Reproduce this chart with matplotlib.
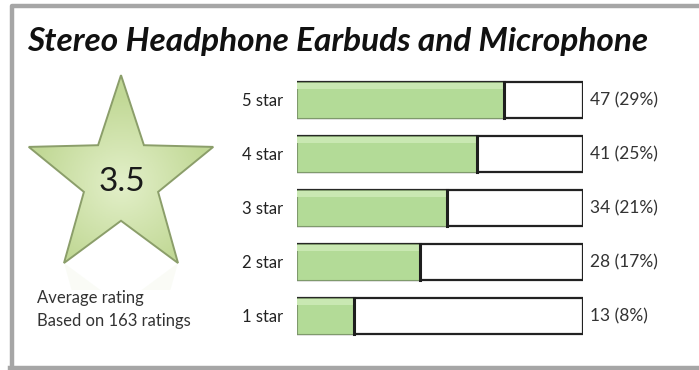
import matplotlib
matplotlib.use('Agg')
import matplotlib.pyplot as plt
import numpy as np
from matplotlib.patches import Polygon, Rectangle

plt.rcParams['font.family'] = ['Lato', 'DejaVu Sans']

title = 'Stereo Headphone Earbuds and Microphone'
stars = ['1 star', '2 star', '3 star', '4 star', '5 star']
counts = [13, 28, 34, 41, 47]
percents = [8, 17, 21, 25, 29]
scale_max = 65
avg_rating = 3.5
n_ratings = 163

W, H = 699, 370
fig = plt.figure(figsize=(W / 100, H / 100), dpi=100)
fig.patch.set_facecolor('white')

# background axes in pixel units
bg = fig.add_axes([0, 0, 1, 1])
bg.set_xlim(0, W)
bg.set_ylim(H, 0)
bg.axis('off')

# frame
bg.plot([12, 12, W + 5], [368, 6, 6], color='#a6a6a6', lw=3.2, solid_capstyle='butt')
bg.plot([10, W + 5], [368, 368], color='#a6a6a6', lw=3.2)

bg.text(27, 42, title, fontsize=24, fontweight='bold', fontstyle='italic',
        color='#111111', va='center', ha='left')

# star shape
cx, cy, R, r, sy = 121, 179, 97, 39, 1.071
ang = np.pi / 2 + np.arange(10) * np.pi / 5
rad = np.where(np.arange(10) % 2 == 0, R, r)
sx_pts = cx + rad * np.cos(ang)
sy_pts = cy - rad * np.sin(ang) * sy
star = Polygon(np.column_stack([sx_pts, sy_pts]), closed=True,
               facecolor='none', edgecolor='#8b9e6a', lw=1.4, zorder=3)

# gradient fill clipped to star
gx, gy = np.meshgrid(np.linspace(0, W, 350), np.linspace(0, H, 185))
d = np.sqrt(((gx - cx) / R) ** 2 + ((gy - (cy + 5)) / R) ** 2)
c0 = np.array([0.89, 0.94, 0.79])
c1 = np.array([0.76, 0.85, 0.59])
t = np.clip(d / 0.9, 0, 1)[..., None]
img = c0 * (1 - t) + c1 * t
im = bg.imshow(img, extent=[0, W, H, 0], zorder=2, aspect='auto')
clip = Polygon(np.column_stack([sx_pts, sy_pts]), closed=True, transform=bg.transData)
im.set_clip_path(clip)
bg.add_patch(star)

# faint reflection
refl = Polygon(np.column_stack([sx_pts, 2 * 263 - sy_pts]), closed=True,
               facecolor='#d6e6bb', edgecolor='none', alpha=0.12, zorder=1)
bg.add_patch(refl)
bg.add_patch(Rectangle((20, 290), 200, 80, facecolor='white', edgecolor='none', zorder=1.5))

bg.text(cx + 1, 182, f'{avg_rating}', fontsize=24, color='#1a1a1a',
        ha='center', va='center', zorder=4)
bg.text(37, 298, 'Average rating', fontsize=12, color='#333333', va='center', zorder=4)
bg.text(37, 321, f'Based on {n_ratings} ratings', fontsize=12, color='#333333',
        va='center', zorder=4)

# bars
ax = fig.add_axes([297 / W, 1 - 343 / H, 286 / W, (343 - 73) / H])
ypos = np.arange(1, len(stars) + 1)
ax.barh(ypos, [scale_max] * len(stars), height=0.66, color='white',
        edgecolor='#222222', lw=1.6, zorder=1)
ax.barh(ypos, counts, height=0.66, color='#b3db97', edgecolor='#7f9a6c',
        lw=0.8, zorder=2)
ax.barh(ypos + 0.26, counts, height=0.1, color='#c9e8b2', edgecolor='none', zorder=3)
for y, c in zip(ypos, counts):
    ax.plot([c, c], [y - 0.33, y + 0.33], color='#1e1e1e', lw=2.2, zorder=4)
for y, c, p in zip(ypos, counts, percents):
    ax.text(scale_max + 1.5, y, f'{c} ({p}%)', fontsize=12.5, color='#333333',
            va='center', ha='left')
ax.set_xlim(0, scale_max)
ax.set_ylim(0.5, len(stars) + 0.5)
ax.set_yticks(ypos)
ax.set_yticklabels(stars, fontsize=12, color='#222222')
ax.tick_params(axis='y', length=0, pad=10)
ax.set_xticks([])
for s in ax.spines.values():
    s.set_visible(False)
ax.patch.set_alpha(0)

fig.savefig('out.png', dpi=100)
